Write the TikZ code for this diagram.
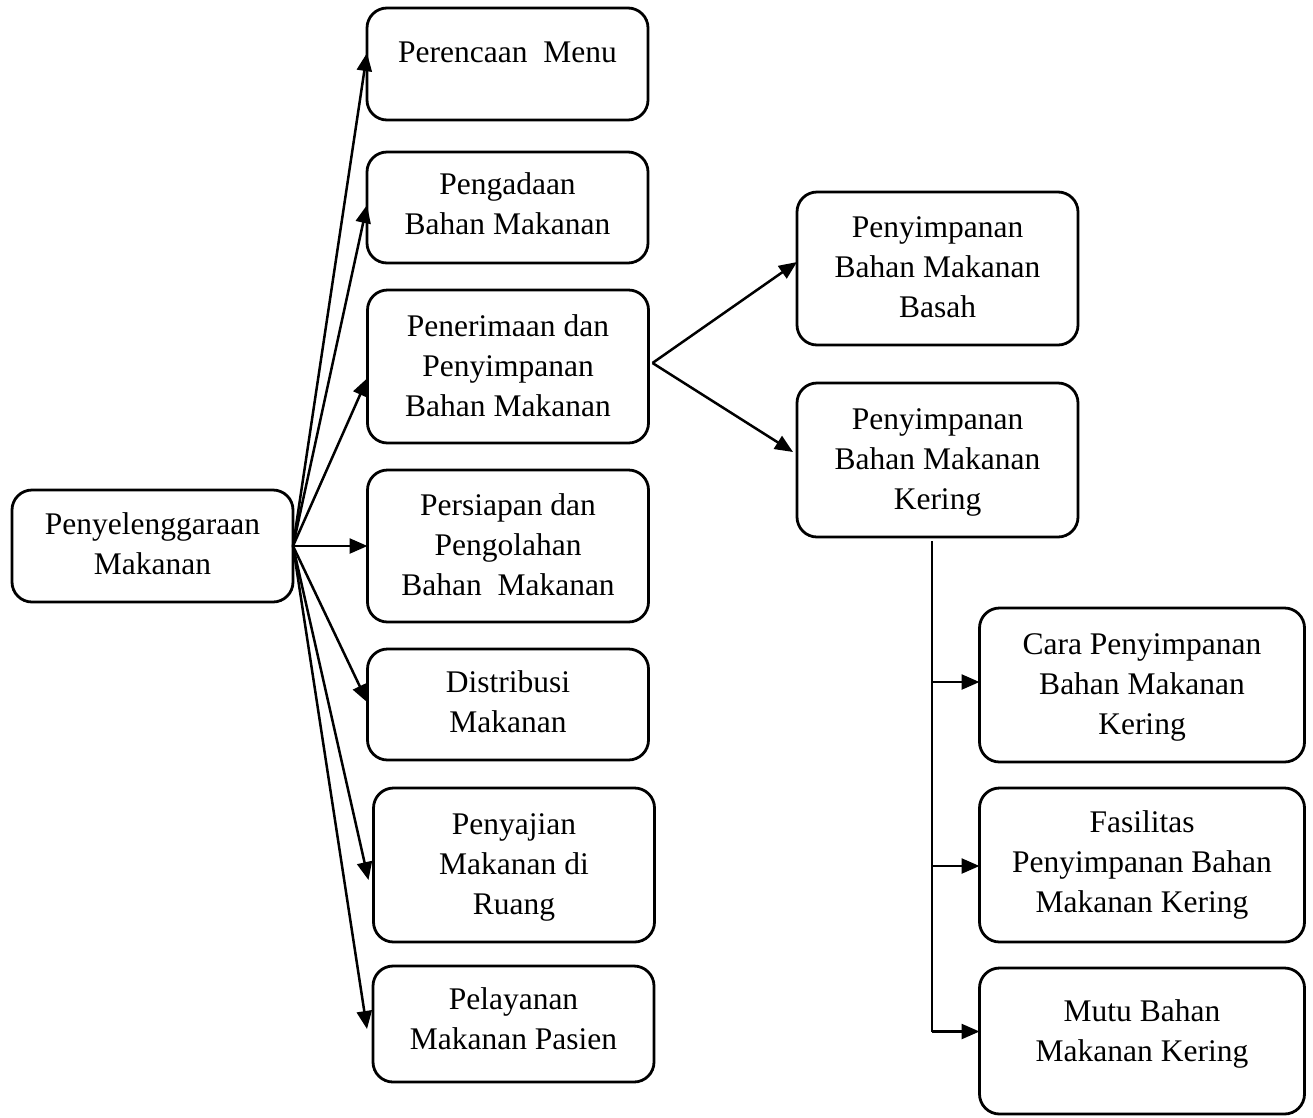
\documentclass[tikz,border=0pt]{standalone}
\usepackage{fontspec}
\setmainfont{Liberation Serif}
\usetikzlibrary{arrows.meta,calc}
\begin{document}
\begin{tikzpicture}[x=1pt,y=-1pt,
  box/.style={draw, line width=2.8pt, rounded corners=20pt, align=center,
    inner sep=0pt, outer sep=0pt, font=\fontsize{31.5}{40}\selectfont},
  lbox/.style={box, minimum width=281pt},
  rbox/.style={box, minimum width=325pt},
  arr/.style={line width=2.5pt, -{Triangle[length=18pt,width=15pt]}},
  trunk/.style={line width=1.5pt}]
\useasboundingbox (0,0) rectangle (1313,1117);

\node[lbox, minimum height=112pt, text depth=4pt] (root) at (152.5,546) {Penyelenggaraan\\Makanan};

\node[lbox, minimum height=112pt, text depth=23pt] (b1) at (507.5,64) {Perencaan\ \ Menu};
\node[lbox, minimum height=111pt, text depth=7pt] (b2) at (507.5,207.5) {Pengadaan\\Bahan Makanan};
\node[lbox, minimum height=153pt, text depth=1pt] (b3) at (508,366.5) {Penerimaan dan\\Penyimpanan\\Bahan Makanan};
\node[lbox, minimum height=152pt, text depth=2pt] (b4) at (508,546) {Persiapan dan\\Pengolahan\\Bahan\ \ Makanan};
\node[lbox, minimum height=111pt, text depth=5pt] (b5) at (508,704.5) {Distribusi\\Makanan};
\node[lbox, minimum height=154pt, text depth=2pt] (b6) at (514,865) {Penyajian\\Makanan di\\Ruang};
\node[lbox, minimum height=116pt, text depth=10pt] (b7) at (513.5,1024) {Pelayanan\\Makanan Pasien};

\node[lbox, minimum height=153pt, text depth=3pt] (basah) at (937.5,268.5) {Penyimpanan\\Bahan Makanan\\Basah};
\node[lbox, minimum height=154pt, text depth=2pt] (kering) at (937.5,460) {Penyimpanan\\Bahan Makanan\\Kering};

\node[rbox, minimum height=154pt, text depth=2pt] (cara) at (1142,685) {Cara Penyimpanan\\Bahan Makanan\\Kering};
\node[rbox, minimum height=154pt, text depth=6pt] (fas) at (1142,865) {Fasilitas\\Penyimpanan Bahan\\Makanan Kering};
\node[rbox, minimum height=146pt, text depth=20pt] (mutu) at (1142,1041) {Mutu Bahan\\Makanan Kering};

\draw[arr] (root.east) -- ([yshift=11pt]b1.west);
\draw[arr] (root.east) -- ([yshift=2.5pt]b2.west);
\draw[arr] (root.east) -- ([yshift=-11.5pt]b3.west);
\draw[arr] (root.east) -- (b4.west);
\draw[arr] (root.east) -- ([yshift=2pt]b5.west);
\draw[arr] (root.east) -- ([xshift=-5pt,yshift=-15pt]b6.west);
\draw[arr] (root.east) -- ([xshift=-6pt,yshift=-5pt]b7.west);

\coordinate (split) at ([xshift=4pt,yshift=3.5pt]b3.east);
\draw[arr] (split) -- ([yshift=6.5pt]basah.west);
\draw[arr] (split) -- ([xshift=-4pt,yshift=8pt]kering.west);

\coordinate (ttop) at ([xshift=-5.5pt,yshift=-4pt]kering.south);
\coordinate (cin) at ([yshift=3pt]cara.west);
\coordinate (fin) at ([yshift=-1pt]fas.west);
\coordinate (min) at ([yshift=9.5pt]mutu.west);
\draw[trunk] (ttop) -- (ttop |- min);
\draw[arr] (ttop |- cin) -- (cin);
\draw[arr] (ttop |- fin) -- (fin);
\draw[arr] (ttop |- min) -- (min);
\end{tikzpicture}
\end{document}
